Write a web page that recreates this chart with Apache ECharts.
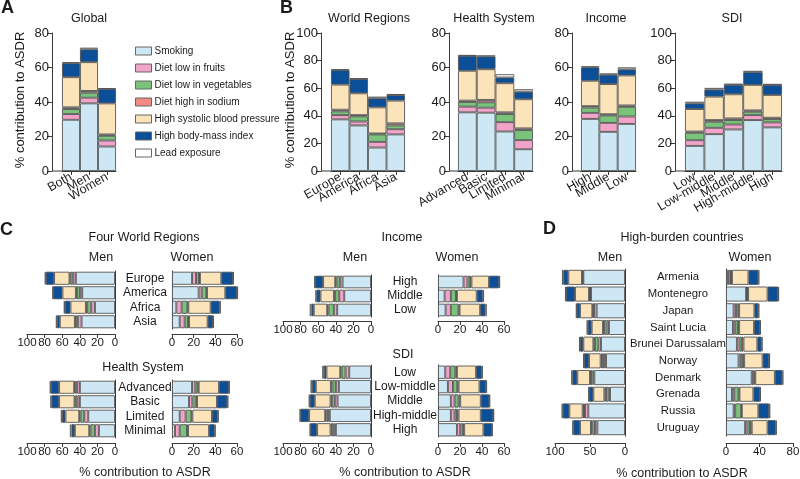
<!DOCTYPE html>
<html><head><meta charset="utf-8">
<script src="https://cdn.jsdelivr.net/npm/echarts@6/dist/echarts.min.js"></script>
<style>html,body{margin:0;padding:0;background:#fff}#c{width:800px;height:479px}</style>
</head><body><div id="c"></div>
<script>
// ---------- DATA ----------
const riskFactors = ['Smoking','Diet low in fruits','Diet low in vegetables','Diet high in sodium','High systolic blood pressure','High body-mass index','Lead exposure'];
// each row: segment values in riskFactors order

// Panel A
const globalCats = ['Both','Men','Women'];
const globalValues = [
  [29.7,3.3,2.9,1.0,17.5,8.1,0.6],
  [39.2,3.3,2.9,1.0,16.7,7.4,1.0],
  [14.2,3.5,2.7,0.8,18.0,8.4,0.4]
];
// Panel B
const regionCats = ['Europe','America','Africa','Asia'];
const regionValues = [
  [37.4,3.1,2.7,1.2,18.2,10.5,0.7],
  [33.0,2.9,3.7,0.9,15.8,10.4,0.5],
  [17.0,4.1,5.4,0.7,18.9,6.6,1.2],
  [26.5,3.8,2.7,1.5,16.5,4.1,0.7]
];
const healthCats = ['Advanced','Basic','Limited','Minimal'];
const healthValues = [
  [34.0,3.3,2.7,0.8,17.3,8.7,0.4],
  [33.8,2.9,3.1,1.4,17.8,7.4,0.6],
  [22.9,5.4,4.7,1.0,16.9,3.3,1.9],
  [12.6,5.3,5.8,1.0,16.9,4.4,1.4]
];
const incomeCats = ['High','Middle','Low'];
const incomeValues = [
  [30.2,3.5,3.1,0.8,14.7,7.8,0.6],
  [22.7,5.2,4.3,0.7,17.5,5.4,0.8],
  [27.3,4.3,5.6,0.8,17.4,3.5,1.2]
];
const sdiCats = ['Low','Low-middle','Middle','High-middle','High'];
const sdiValues = [
  [18.2,4.1,5.4,0.9,16.3,4.1,1.2],
  [26.7,4.6,4.4,1.2,17.0,5.1,1.2],
  [30.1,3.6,3.2,1.2,17.5,6.8,0.9],
  [36.9,3.6,2.5,0.9,18.5,9.2,1.0],
  [31.6,3.6,2.4,1.0,16.5,7.3,0.7]
];
// Panel C
const regionMen = [
  [44.5,3.0,3.1,1.1,17.5,9.5,1.1],
  [37.3,2.6,3.4,1.2,15.2,10.6,0.8],
  [22.8,4.2,4.6,1.5,17.5,6.4,1.2],
  [38.0,4.2,2.3,1.1,17.1,3.1,1.5]
];
const regionWomen = [
  [18.5,3.7,2.7,0.9,19.7,10.8,0.9],
  [24.6,2.8,4.3,0.6,16.9,10.8,1.0],
  [4.0,4.9,5.3,0.9,20.6,8.3,1.0],
  [7.1,4.6,3.1,0.9,17.2,4.9,1.0]
];
const healthMen = [
  [39.9,3.1,2.2,1.2,17.1,9.5,1.1],
  [39.9,2.7,2.3,1.1,17.5,8.7,1.2],
  [30.4,4.6,4.2,1.5,15.6,3.8,1.5],
  [18.3,4.5,5.0,1.5,16.3,3.8,1.9]
];
const healthWomen = [
  [18.5,3.0,2.2,0.9,18.8,9.2,0.6],
  [15.7,3.1,3.0,1.3,18.4,9.6,0.9],
  [7.1,5.5,5.2,1.0,18.1,5.3,0.9],
  [2.8,4.3,6.7,1.0,19.4,5.2,0.9]
];
const incomeMen = [
  [32.3,3.1,3.8,1.5,13.7,9.1,1.1],
  [30.4,5.7,4.6,1.5,15.2,4.6,1.1],
  [38.4,3.8,6.1,1.5,15.2,2.7,1.9]
];
const incomeWomen = [
  [23.2,3.6,2.4,1.2,16.0,9.3,0.6],
  [6.0,5.7,4.6,0.9,18.0,5.5,1.2],
  [6.9,4.8,7.0,0.9,18.7,4.8,1.2]
];
const sdiMen = [
  [24.7,4.2,4.6,1.5,15.6,3.0,1.9],
  [36.5,3.4,3.8,1.9,17.1,4.2,1.9],
  [38.0,3.1,3.4,1.5,17.9,5.7,1.1],
  [46.8,1.9,1.9,1.5,18.2,9.9,0.8],
  [39.9,2.3,2.3,1.5,15.2,7.6,0.8]
];
const sdiWomen = [
  [6.6,4.5,4.6,1.5,17.4,5.2,0.9],
  [9.0,4.6,3.9,1.2,19.0,6.0,0.9],
  [11.7,3.4,3.6,1.5,18.7,7.8,0.6],
  [11.7,3.4,2.1,1.5,20.2,11.4,0.6],
  [17.2,3.0,2.4,1.2,17.5,7.8,0.6]
];
// Panel D
const countryCats = ['Armenia','Montenegro','Japan','Saint Lucia','Brunei Darussalam','Norway','Denmark','Grenada','Russia','Uruguay'];
const countryMen = [
  [59.5,1.0,0.5,0.4,19.6,7.1,1.9],
  [48.6,0.9,0.5,1.4,20.0,12.9,1.4],
  [40.5,3.8,0.9,1.5,17.6,4.7,1.0],
  [22.9,3.3,3.8,1.4,16.2,5.7,1.5],
  [34.3,3.8,4.8,2.3,14.3,4.8,1.4],
  [27.1,2.9,2.9,1.9,16.6,7.2,0.9],
  [43.8,2.4,2.4,1.4,18.1,7.1,1.5],
  [21.4,1.9,3.8,2.4,15.7,6.2,1.0],
  [52.4,4.7,1.5,1.9,19.0,9.5,1.5],
  [39.5,3.4,3.8,1.9,15.7,9.5,1.4]
];
const countryWomen = [
  [2.4,2.7,0.8,1.2,19.7,11.8,1.2],
  [24.0,0.8,0.4,1.2,23.2,12.6,1.2],
  [9.1,2.7,2.0,1.9,18.2,4.7,1.2],
  [8.3,2.7,3.2,1.5,17.8,7.1,1.1],
  [13.0,3.1,2.8,2.0,16.5,5.1,1.2],
  [15.0,2.7,2.4,1.6,22.0,7.9,0.8],
  [30.7,2.0,1.2,1.1,23.3,9.0,1.2],
  [7.1,2.7,5.2,1.1,16.6,7.9,1.1],
  [9.1,1.9,7.1,0.8,19.7,13.0,1.2],
  [22.8,2.8,3.1,2.0,18.9,9.8,1.2]
];
// tick labels
const ticks80 = [0,20,40,60,80];
const ticks100 = [0,20,40,60,80,100];
const ticks60 = [0,20,40,60];
const ticksD_men = [0,50,100];
const ticksD_women = [0,40,80];

// ---------- STYLE / LAYOUT ----------
const riskColors = ['#cde8f4','#f2a3c9','#79c37a','#ef8a84','#fbe4ba','#0a4f97','#ffffff'];
const FONT = "'Liberation Sans', Arial, Helvetica, sans-serif";
const INK = '#1a1a1a';
const AXIS = '#3a3a3a';

const verticalPanels = [
  {cats: globalCats, values: globalValues, ticks: ticks80,  left: 62,  width: 54, offset: 10},
  {cats: regionCats, values: regionValues, ticks: ticks100, left: 331, width: 74, offset: 10},
  {cats: healthCats, values: healthValues, ticks: ticks80,  left: 458, width: 75, offset: 9},
  {cats: incomeCats, values: incomeValues, ticks: ticks80,  left: 581, width: 55, offset: 9},
  {cats: sdiCats,    values: sdiValues,    ticks: ticks100, left: 685, width: 97, offset: 10}
];
const VTOP = 33, VH = 138;

const colC = {menLeft: 27, menWidth: 88, womenLeft: 172, womenWidth: 65, labelGap: 30, labelSize: 12, menTicks: ticks100, womenTicks: ticks60};
const colI = {menLeft: 283, menWidth: 88, womenLeft: 438, womenWidth: 66, labelGap: 34, labelSize: 12, menTicks: ticks100, womenTicks: ticks60};
const colD = {menLeft: 555, menWidth: 70, womenLeft: 726, womenWidth: 67, labelGap: 53, labelSize: 11.3, menTicks: ticksD_men, womenTicks: ticksD_women};
const horizontalPanels = [
  Object.assign({cats: regionCats,  men: regionMen,  women: regionWomen,  top: 271, height: 58, xoff: 5, barW: '90%'}, colC),
  Object.assign({cats: healthCats,  men: healthMen,  women: healthWomen,  top: 380, height: 58, xoff: 5, barW: '90%'}, colC),
  Object.assign({cats: incomeCats,  men: incomeMen,  women: incomeWomen,  top: 275, height: 42, xoff: 4, barW: '90%'}, colI),
  Object.assign({cats: sdiCats,     men: sdiMen,     women: sdiWomen,     top: 365, height: 72, xoff: 6, barW: '92%'}, colI),
  Object.assign({cats: countryCats, men: countryMen, women: countryWomen, top: 269, height: 167, xoff: 7, barW: '90%'}, colD)
];

const grids = [], xAxes = [], yAxes = [], series = [], graphics = [];

function addBars(gi, values, barWidth) {
  riskFactors.forEach((name, f) => {
    series.push({
      type: 'bar', name, stack: 'g' + gi, xAxisIndex: gi, yAxisIndex: gi,
      barWidth, data: values.map(r => r[f]), clip: false, silent: true,
      itemStyle: {color: riskColors[f], borderColor: '#555', borderWidth: 0.9},
      emphasis: {disabled: true}
    });
  });
}
const lineStyle = {color: AXIS, width: 1};

verticalPanels.forEach(p => {
  const gi = grids.length;
  grids.push({left: p.left, top: VTOP, width: p.width, height: VH, outerBoundsMode: 'none'});
  xAxes.push({
    type: 'category', gridIndex: gi, data: p.cats,
    axisLine: {show: true, lineStyle}, axisTick: {show: true, alignWithLabel: true, length: 4, lineStyle},
    axisLabel: {rotate: 30, interval: 0, fontSize: 12.5, color: INK, margin: 5, fontFamily: FONT}
  });
  yAxes.push({
    type: 'value', gridIndex: gi, min: 0, max: p.ticks[p.ticks.length - 1], interval: p.ticks[1] - p.ticks[0],
    offset: p.offset, axisLine: {show: true, lineStyle}, axisTick: {show: true, length: 5, lineStyle},
    splitLine: {show: false}, axisLabel: {fontSize: 13, color: INK, margin: 3, fontFamily: FONT}
  });
  addBars(gi, p.values, '100%');
  graphics.push({type: 'line', silent: true, shape: {x1: p.left - p.offset, y1: VTOP + VH, x2: p.left, y2: VTOP + VH}, style: {stroke: AXIS, lineWidth: 1}});
});

horizontalPanels.forEach(p => {
  // men (inverted)
  let gi = grids.length;
  grids.push({left: p.menLeft, top: p.top, width: p.menWidth, height: p.height, outerBoundsMode: 'none'});
  xAxes.push({
    type: 'value', gridIndex: gi, min: 0, max: p.menTicks[p.menTicks.length - 1], interval: p.menTicks[1] - p.menTicks[0],
    inverse: true, offset: p.xoff, axisLine: {show: true, lineStyle}, axisTick: {show: true, length: 4, lineStyle},
    splitLine: {show: false}, axisLabel: {fontSize: 11.5, color: INK, margin: 3, fontFamily: FONT, hideOverlap: false}
  });
  yAxes.push({
    type: 'category', gridIndex: gi, data: p.cats, inverse: true, position: 'right',
    axisLine: {show: true, lineStyle}, axisTick: {show: false},
    axisLabel: {show: true, interval: 0, align: 'center', margin: p.labelGap, fontSize: p.labelSize, color: INK, fontFamily: FONT}
  });
  addBars(gi, p.men, p.barW);
  // women
  gi = grids.length;
  grids.push({left: p.womenLeft, top: p.top, width: p.womenWidth, height: p.height, outerBoundsMode: 'none'});
  xAxes.push({
    type: 'value', gridIndex: gi, min: 0, max: p.womenTicks[p.womenTicks.length - 1], interval: p.womenTicks[1] - p.womenTicks[0],
    offset: p.xoff, axisLine: {show: true, lineStyle}, axisTick: {show: true, length: 4, lineStyle},
    splitLine: {show: false}, axisLabel: {fontSize: 11.5, color: INK, margin: 3, fontFamily: FONT}
  });
  yAxes.push({
    type: 'category', gridIndex: gi, data: p.cats, inverse: true, position: 'left',
    axisLine: {show: true, lineStyle}, axisTick: {show: false}, axisLabel: {show: false}
  });
  addBars(gi, p.women, p.barW);
});

function txt(text, x, y, size, opts) {
  opts = opts || {};
  graphics.push({
    type: 'text', silent: true, x, y, rotation: opts.rot || 0,
    style: {text, fontSize: size, fontFamily: FONT, fontWeight: opts.bold ? 'bold' : 'normal', fill: INK,
      textAlign: opts.align || 'center', textVerticalAlign: 'middle'}
  });
}
// panel letters
txt('A', 1, 8, 18, {bold: true, align: 'left'});
txt('B', 280, 8, 18, {bold: true, align: 'left'});
txt('C', 0, 230, 18, {bold: true, align: 'left'});
txt('D', 543, 229, 18, {bold: true, align: 'left'});
// titles A/B
txt('Global', 89, 19, 12.5);
txt('World Regions', 369, 19, 12.5);
txt('Health System', 494, 19, 12.5);
txt('Income', 606, 19, 12.5);
txt('SDI', 732, 19, 12.5);
// y names
txt('% contribution to ASDR', 20, 100, 13, {rot: Math.PI / 2});
txt('% contribution to ASDR', 290, 100, 13, {rot: Math.PI / 2});
// C titles
txt('Four World Regions', 144, 238, 12.5);
txt('Men', 101, 258, 12.5);
txt('Women', 192, 258, 12.5);
txt('Health System', 143, 368, 12.5);
txt('Income', 402, 238, 12.5);
txt('Men', 355, 258, 12.5);
txt('Women', 457, 258, 12.5);
txt('SDI', 403, 355, 12.5);
txt('% contribution to ASDR', 145, 473, 12.5);
txt('% contribution to ASDR', 405, 473, 12.5);
// D titles
txt('High-burden countries', 682, 238, 12.5);
txt('Men', 610, 258, 12.5);
txt('Women', 750, 258, 12.5);
txt('% contribution to ASDR', 682, 474, 12.5);

const chart = echarts.init(document.getElementById('c'), null, {renderer: 'canvas'});
chart.setOption({
  animation: false,
  textStyle: {fontFamily: FONT},
  legend: {
    orient: 'vertical', left: 130, top: 41, itemWidth: 16, itemHeight: 8, itemGap: 7,
    icon: 'rect', selectedMode: false, data: riskFactors,
    itemStyle: {borderColor: '#666', borderWidth: 1},
    textStyle: {fontSize: 10, color: INK, fontFamily: FONT, padding: [0, 0, 0, -2]}
  },
  grid: grids, xAxis: xAxes, yAxis: yAxes, series, graphic: graphics
});
</script></body></html>
